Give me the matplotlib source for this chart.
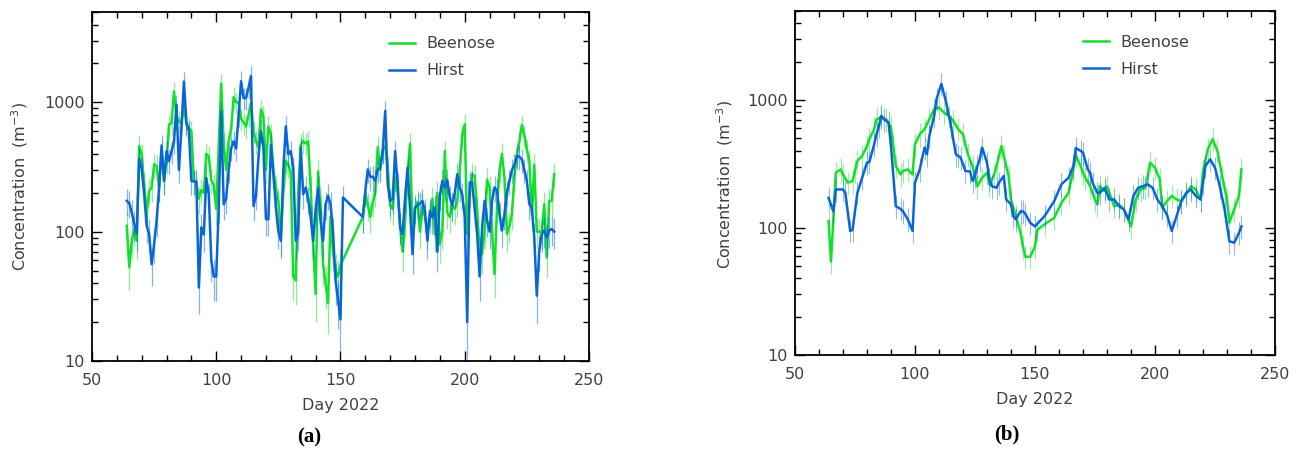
import numpy as np
import matplotlib.pyplot as plt
from matplotlib.ticker import MultipleLocator, LogLocator, NullFormatter

# ---- panel (a): daily values ----
days_a1_green = np.arange(64, 151)
days_a1_blue = np.arange(64, 152)
days_a2 = np.arange(159, 237)

beenose_a1 = [111, 53, 85, 105, 85, 459, 396, 233, 137, 207,
              219, 332, 322, 219, 420, 247, 352, 673, 693, 1216,
              780, 714, 693, 960, 673, 631, 600, 245, 240, 180,
              210, 200, 400, 380, 250, 230, 150, 450, 1400, 480,
              300, 500, 620, 1100, 1000, 1000, 750, 700, 650, 800,
              1000, 600, 500, 450, 880, 780, 300, 650, 564, 300,
              219, 173, 90, 200, 352, 330, 285, 45, 42, 200,
              470, 501, 480, 501, 219, 80, 33, 293, 154, 56,
              40, 28, 130, 70, 50, 45, 55]
hirst_a1 = [173, 166, 141, 115, 97, 366, 307, 195, 111, 96,
            56, 80, 122, 219, 464, 247, 420, 352, 420, 501,
            960, 300, 631, 1450, 700, 600, 247, 245, 245, 37,
            108, 95, 260, 193, 60, 45, 45, 154, 850, 163,
            180, 300, 440, 500, 440, 800, 1460, 1080, 1080, 1300,
            1600, 158, 190, 380, 600, 450, 125, 125, 470, 280,
            154, 100, 85, 300, 653, 396, 420, 313, 85, 98,
            445, 195, 219, 180, 129, 85, 150, 219, 120, 85,
            163, 190, 163, 100, 42, 30, 21, 184]
beenose_a2 = [130, 200, 160, 130, 170, 200, 450, 300, 430, 460,
              320, 160, 150, 260, 200, 110, 70, 120, 280, 480,
              100, 150, 170, 100, 160, 130, 100, 130, 180, 95,
              200, 80, 100, 420, 140, 130, 160, 150, 170, 300,
              560, 676, 96, 200, 278, 270, 150, 70, 67, 100,
              253, 220, 100, 47, 154, 300, 400, 260, 96, 110,
              137, 260, 400, 500, 670, 560, 430, 355, 137, 330,
              100, 100, 100, 163, 63, 173, 173, 278]
hirst_a2 = [130, 206, 303, 266, 266, 247, 303, 313, 420, 860,
            233, 173, 180, 420, 233, 108, 96, 184, 313, 150,
            67, 154, 160, 165, 173, 144, 85, 144, 129, 154,
            70, 190, 247, 220, 250, 184, 160, 200, 278, 220,
            194, 130, 20, 240, 240, 150, 96, 45, 108, 173,
            122, 100, 173, 220, 208, 137, 102, 137, 200, 247,
            300, 331, 385, 380, 362, 300, 247, 163, 154, 90,
            32, 71, 96, 102, 90, 102, 105, 100]

# ---- panel (b): smoothed values ----
days_b_green = [64, 65, 66, 67, 69, 70, 72, 74, 75, 76, 78, 80, 81, 83, 84, 86, 88, 90,
                91, 92, 94, 95, 97, 99, 100, 102, 104, 106, 108, 110, 112, 114, 116, 118,
                120, 122, 124, 126, 128, 130, 131, 133, 134, 136, 137, 139, 140, 142, 144,
                145, 146, 148, 150, 151, 154, 158, 161, 164, 166, 167, 169, 170, 171, 173,
                175, 176, 177, 179, 180, 183, 185, 187, 190, 192, 194, 196, 198, 200, 202,
                203, 205, 207, 209, 211, 213, 215, 217, 219, 220, 222, 224, 226, 228, 230,
                231, 233, 235, 236]
beenose_b = [112, 54, 115, 269, 286, 261, 225, 232, 278, 333, 365, 436, 493, 592, 708, 731, 708, 610,
             436, 304, 261, 278, 286, 261, 450, 540, 592, 708, 849, 875, 800, 753, 687, 592,
             540, 376, 304, 211, 246, 269, 218, 261, 304, 436, 367, 254, 166, 123, 91,
             71, 59, 59, 71, 96, 106, 119, 156, 187, 286, 370, 304, 269, 246, 211,
             165, 152, 211, 193, 211, 147, 152, 139, 102, 166, 199, 205, 323, 295, 239,
             143, 161, 177, 166, 161, 182, 211, 199, 166, 278, 411, 493, 399, 253, 166,
             109, 139, 177, 286]
days_b_blue = [64, 66, 67, 70, 71, 73, 74, 76, 78, 80, 81, 83, 84, 85, 86, 87, 89, 90,
               92, 94, 95, 97, 99, 100, 102, 104, 105, 106, 108, 109, 111, 113, 115, 117,
               118, 119, 121, 123, 124, 125, 126, 127, 128, 130, 131, 132, 134, 135, 137,
               138, 140, 141, 142, 144, 145, 146, 148, 150, 154, 158, 161, 164, 166, 167,
               169, 170, 172, 173, 174, 176, 177, 179, 181, 183, 185, 187, 189, 191, 193,
               195, 197, 199, 201, 203, 205, 207, 209, 211, 213, 215, 217, 219, 220, 221,
               223, 225, 227, 229, 231, 233, 235, 236]
hirst_b = [171, 134, 199, 199, 187, 94, 96, 187, 246, 323, 327, 450, 540, 628, 753, 708, 667, 436,
           147, 140, 134, 116, 94, 225, 286, 424, 376, 524, 753, 1020, 1337, 959, 628, 376,
           365, 354, 278, 275, 232, 254, 304, 343, 424, 323, 240, 211, 205, 225, 254,
           166, 152, 123, 116, 134, 134, 128, 109, 102, 123, 161, 218, 246, 304, 420,
           400, 387, 286, 269, 225, 187, 187, 205, 166, 166, 147, 139, 116, 177, 205,
           211, 218, 205, 166, 147, 126, 94, 123, 161, 187, 199, 177, 166, 225, 304,
           343, 295, 211, 139, 78, 76, 91, 102]

GREEN = '#12e02a'
BLUE = '#0a66d6'
TXT = '#404040'
FS = 11.5

fig = plt.figure(figsize=(13.03, 4.51), dpi=100)
axa = fig.add_axes([0.0706, 0.1996, 0.3814, 0.7738])
axb = fig.add_axes([0.6101, 0.2129, 0.3684, 0.7627])


def style(ax):
    ax.set_yscale('log')
    ax.set_xlim(50, 250)
    ax.set_ylim(10, 5000)
    ax.xaxis.set_major_locator(MultipleLocator(50))
    ax.xaxis.set_minor_locator(MultipleLocator(10))
    ax.set_yticks([10, 100, 1000])
    ax.set_yticklabels(['10', '100', '1000'])
    ax.yaxis.set_minor_locator(LogLocator(base=10, subs=np.arange(2, 10)))
    ax.yaxis.set_minor_formatter(NullFormatter())
    ax.tick_params(which='both', direction='in', top=True, right=True,
                   colors='black', labelcolor=TXT, labelsize=FS, width=1.0)
    ax.tick_params(which='major', length=7)
    ax.tick_params(which='minor', length=4)
    ax.tick_params(axis='x', pad=9)
    ax.tick_params(axis='y', pad=5)
    for s in ax.spines.values():
        s.set_linewidth(1.3)
    ax.set_xlabel('Day 2022', fontsize=FS, color=TXT, labelpad=7)
    ax.set_ylabel('Concentration  (m$^{-3}$)', fontsize=FS, color=TXT)


def err_a(v):
    v = np.asarray(v, dtype=float)
    return np.sqrt((0.18 * v) ** 2 + 4.0 * v)


# panel a
dg = np.concatenate([days_a1_green, days_a2])
vg = np.array(beenose_a1 + beenose_a2, dtype=float)
db = np.concatenate([days_a1_blue, days_a2])
vb = np.array(hirst_a1 + hirst_a2, dtype=float)

eg = err_a(vg)
eb = err_a(vb)
axa.vlines(dg, vg - eg, vg + eg, color=GREEN, lw=0.9, alpha=0.5)
axa.plot(dg, vg, color=GREEN, lw=1.8, label='Beenose')
axa.vlines(db, np.maximum(vb - eb, 10.0), vb + eb, color=BLUE, lw=0.9, alpha=0.5)
axa.plot(db, vb, color=BLUE, lw=1.8, label='Hirst')
style(axa)
axa.yaxis.set_label_coords(-0.125, 0.5)

# panel b
vgb = np.array(beenose_b, dtype=float)
vbb = np.array(hirst_b, dtype=float)
axb.vlines(days_b_green, vgb * 0.8, vgb * 1.22, color=GREEN, lw=0.8, alpha=0.45)
axb.plot(days_b_green, vgb, color=GREEN, lw=1.8, label='Beenose')
axb.vlines(days_b_blue, vbb * 0.8, vbb * 1.22, color=BLUE, lw=0.8, alpha=0.45)
axb.plot(days_b_blue, vbb, color=BLUE, lw=1.8, label='Hirst')
style(axb)
axb.yaxis.set_label_coords(-0.125, 0.495)

for ax, x0 in ((axa, 0.598), (axb, 0.6)):
    ax.legend(loc='upper left', bbox_to_anchor=(x0, 0.93), frameon=False,
              borderpad=0, borderaxespad=0, handlelength=1.6, handletextpad=0.75,
              labelspacing=0.75, fontsize=FS, labelcolor=TXT)

fig.text(309 / 1303, 1 - 437 / 451, '(a)', ha='center', va='center', fontsize=15,
         fontweight='bold', family='Liberation Serif', color='black')
fig.text(1007 / 1303, 1 - 434 / 451, '(b)', ha='center', va='center', fontsize=15,
         fontweight='bold', family='Liberation Serif', color='black')

fig.savefig('out.png', dpi=100)
